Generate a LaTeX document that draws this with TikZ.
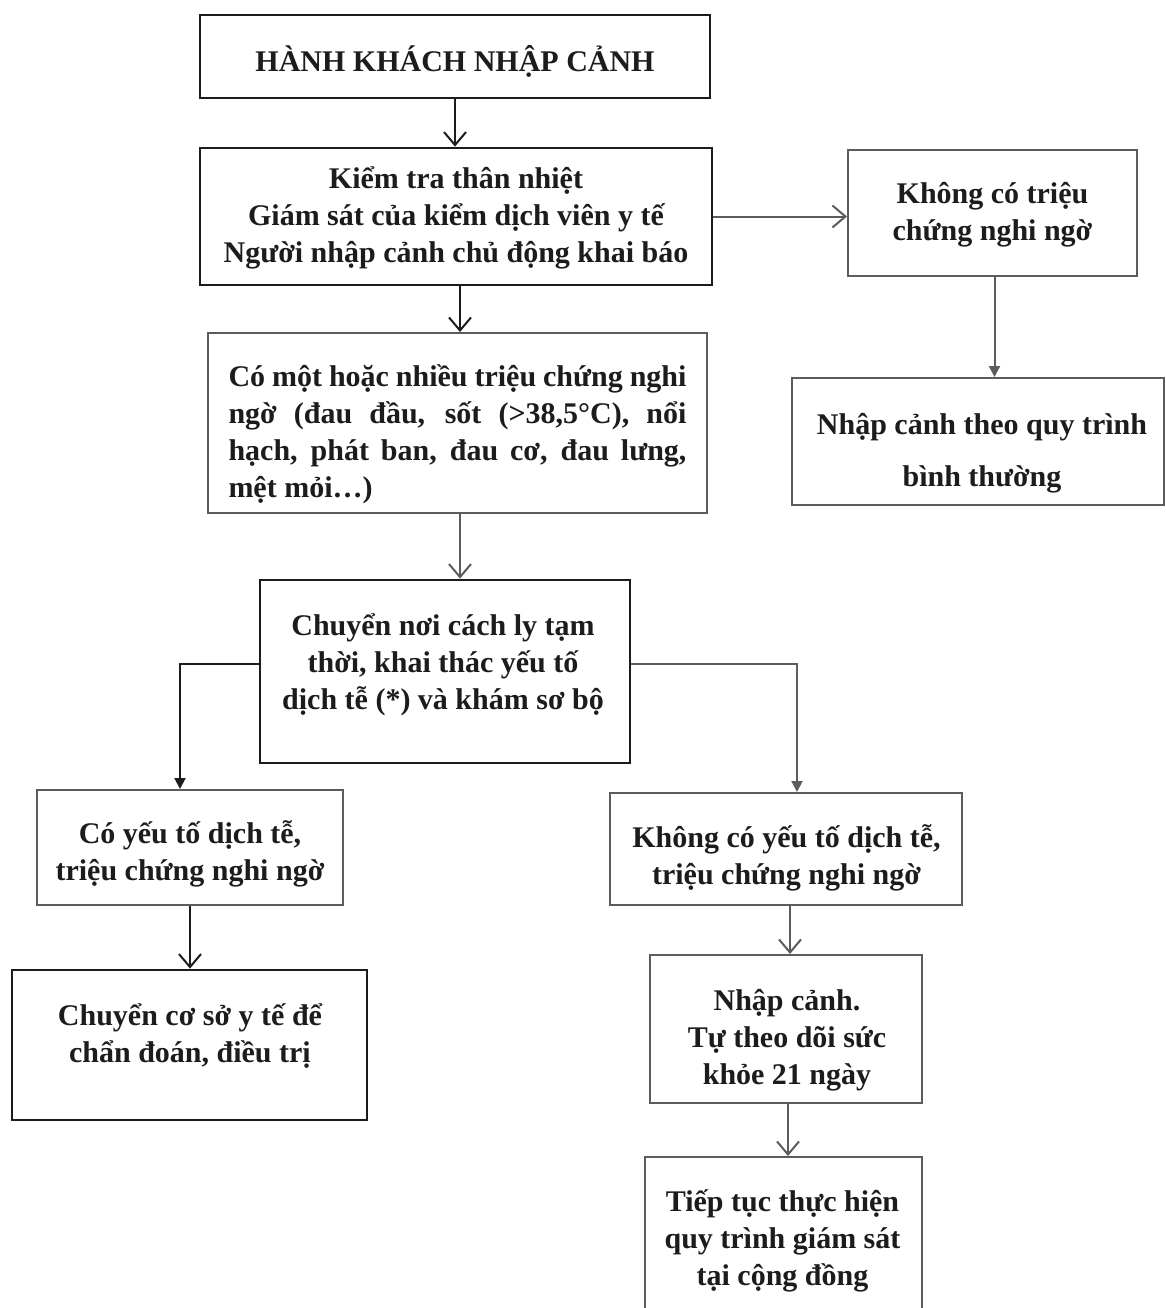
\documentclass[tikz,border=0pt]{standalone}
\usepackage{fontspec}
\setmainfont{Liberation Serif}
\usetikzlibrary{arrows.meta}
\definecolor{inkdark}{HTML}{1C1C1C}
\definecolor{inkgrey}{HTML}{5C5C5C}
\hyphenpenalty=10000

\begin{document}
\begin{tikzpicture}[x=1pt, y=-1pt,
    darkframe/.style={draw=inkdark, line width=2.8pt, inner sep=0pt},
    greyframe/.style={draw=inkgrey, line width=2pt, inner sep=0pt},
    boxtext/.style={text=inkdark, inner sep=0pt, align=center, font=\fontsize{30}{37}\selectfont\bfseries},
    darkarrow/.style={draw=inkdark, line width=2pt, -{Straight Barb[length=13pt, width=22pt]}},
    greyarrow/.style={draw=inkgrey, line width=2pt, -{Straight Barb[length=13pt, width=22pt]}},
    darkfill/.style={draw=inkdark, line width=2pt, -{Triangle[length=11pt, width=11pt]}},
    greyfill/.style={draw=inkgrey, line width=2pt, -{Triangle[length=11pt, width=11pt]}}]
  \path[use as bounding box, fill=white] (0,0) rectangle (1166,1308);

  % frames
  \foreach \name/\x/\y/\w/\h in {entry/455/56.5/510/83, check/456/216.5/512/137, isol/445/671.5/370/183, hosp/189.5/1045/355/150}
    \node[darkframe, minimum width=\w, minimum height=\h] (\name) at (\x,\y) {};
  \foreach \name/\x/\y/\w/\h in {nosym/992.5/213/289/126, normal/978/441.5/372/127, sym/457.5/423/499/180, epi/190/847.5/306/115, noepi/786/849/352/112, selfmon/786/1029/272/148, cont/783.5/1240/277/166}
    \node[greyframe, minimum width=\w, minimum height=\h] (\name) at (\x,\y) {};

  % texts
  \node[boxtext] (entrytext) at (455,61) {HÀNH KHÁCH NHẬP CẢNH};
  \node[boxtext] (checktext) at (456,217.5) {Kiểm tra thân nhiệt\\ Giám sát của kiểm dịch viên y tế\\ Người nhập cảnh chủ động khai báo};
  \node[boxtext] (nosymtext) at (992.5,215) {Không có triệu\\ chứng nghi ngờ};
  \node[boxtext, font=\fontsize{30}{52}\selectfont\bfseries] (normaltext) at (982,453) {Nhập cảnh theo quy trình\\ bình thường};
  \node[boxtext, text width=458, align=justify] (symtext) at (457.5,434.5) {Có một hoặc nhiều triệu chứng nghi\linebreak ngờ (đau đầu, sốt (>38,5°C), nổi\linebreak hạch, phát ban, đau cơ, đau lưng,\linebreak mệt mỏi…)};
  \node[boxtext] (isoltext) at (443,665) {Chuyển nơi cách ly tạm\\ thời, khai thác yếu tố\\ dịch tễ (*) và khám sơ bộ};
  \node[boxtext] (epitext) at (190,854) {Có yếu tố dịch tễ,\\ triệu chứng nghi ngờ};
  \node[boxtext] (noepitext) at (786.5,857.5) {Không có yếu tố dịch tễ,\\ triệu chứng nghi ngờ};
  \node[boxtext] (hosptext) at (190,1036) {Chuyển cơ sở y tế để\\ chẩn đoán, điều trị};
  \node[boxtext] (selfmontext) at (787,1040.5) {Nhập cảnh.\\ Tự theo dõi sức\\ khỏe 21 ngày};
  \node[boxtext] (conttext) at (782.5,1240.5) {Tiếp tục thực hiện\\ quy trình giám sát\\ tại cộng đồng};

  % connectors
  \draw[darkarrow] (entry.south) -- (entry.south |- check.north);
  \draw[greyarrow] (check.east) -- (check.east -| nosym.west);
  \draw[greyfill] ([xshift=2pt]nosym.south) -- ([xshift=2pt]nosym.south |- normal.north);
  \draw[darkarrow] ([xshift=4pt]check.south) -- ([xshift=4pt]check.south |- sym.north);
  \draw[greyarrow] ([xshift=2.5pt]sym.south) -- ([xshift=2.5pt]sym.south |- isol.north);
  \draw[darkfill] ([yshift=8pt]isol.west) -| ([xshift=-10pt]epi.north);
  \draw[greyfill] ([yshift=8pt]isol.east) -| ([xshift=11pt]noepi.north);
  \draw[darkarrow] (epi.south) -- (epi.south |- hosp.north);
  \draw[greyarrow] ([xshift=4pt]noepi.south) -- ([xshift=4pt]noepi.south |- selfmon.north);
  \draw[greyarrow] ([xshift=2pt]selfmon.south) -- ([xshift=2pt]selfmon.south |- cont.north);
\end{tikzpicture}
\end{document}
